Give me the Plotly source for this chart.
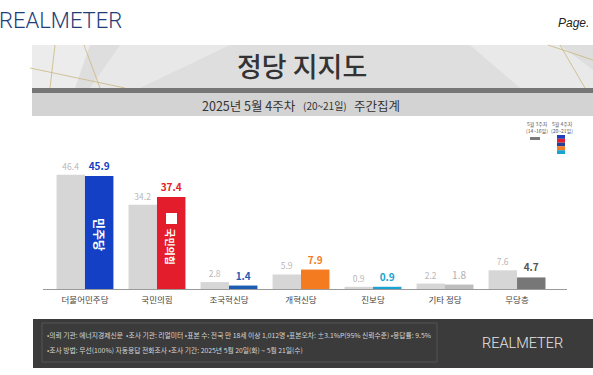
import plotly.graph_objects as go

W, H = 593, 375

categories = ["더불어민주당", "국민의힘", "조국혁신당", "개혁신당", "진보당", "기타 정당", "무당층"]
prev_week = [46.4, 34.2, 2.8, 5.9, 0.9, 2.2, 7.6]
this_week = [45.9, 37.4, 1.4, 7.9, 0.9, 1.8, 4.7]
this_colors = ["#1340c4", "#e31d2b", "#1b5db3", "#f47b20", "#19a2d2", "#bdbdbd", "#777777"]
label_colors = ["#1340c4", "#e31d2b", "#1b5db3", "#f47b20", "#19a2d2", "#b0b0b0", "#555555"]
label_bold = [True, True, True, True, True, False, True]
prev_color = "#d6d6d6"

FONT = "Noto Sans CJK KR"

def px(x):
    return x / W

def py(y):
    return 1 - y / H

fig = go.Figure()
fig.add_trace(go.Bar(
    x=categories, y=prev_week, marker_color=prev_color, marker_line_width=0,
    text=[f"{v:.1f}" for v in prev_week], textposition="outside",
    textfont=dict(family=FONT, size=8.5, color="#b8b8b8"), cliponaxis=False,
))
fig.add_trace(go.Bar(
    x=categories, y=this_week, marker_color=this_colors, marker_line_width=0,
    text=[f"<b>{v:.1f}</b>" if b else f"{v:.1f}" for v, b in zip(this_week, label_bold)],
    textposition="outside",
    textfont=dict(family=FONT, size=10, color=label_colors), cliponaxis=False,
))

shapes = []
# header panel: title band
shapes.append(dict(type="rect", xref="paper", yref="paper", x0=px(32), x1=1, y0=py(88), y1=py(45),
                   fillcolor="#dedede", line_width=0, layer="below"))
# decorative lighter facets
shapes.append(dict(type="path", xref="paper", yref="paper",
                   path=f"M {px(32)} {py(45)} L {px(90)} {py(45)} L {px(75)} {py(88)} L {px(32)} {py(88)} Z",
                   fillcolor="#ececec", line_width=0, layer="below"))
shapes.append(dict(type="path", xref="paper", yref="paper",
                   path=f"M {px(120)} {py(45)} L {px(230)} {py(45)} L {px(140)} {py(88)} L {px(90)} {py(88)} Z",
                   fillcolor="#e8e8e8", line_width=0, layer="below"))
shapes.append(dict(type="path", xref="paper", yref="paper",
                   path=f"M {px(470)} {py(45)} L {px(560)} {py(45)} L {px(593)} {py(70)} L {px(593)} {py(88)} L {px(520)} {py(88)} Z",
                   fillcolor="#e9e9e9", line_width=0, layer="below"))
for (xa, ya, xb, yb) in [(55, 45, 50, 88), (84, 45, 100, 88), (30, 68, 125, 88), (560, 45, 585, 88), (548, 45, 593, 60)]:
    shapes.append(dict(type="line", xref="paper", yref="paper", x0=px(xa), y0=py(ya), x1=px(xb), y1=py(yb),
                       line=dict(color="#c9b682", width=0.8), layer="below"))
# dark stripe
shapes.append(dict(type="rect", xref="paper", yref="paper", x0=px(32), x1=1, y0=py(93), y1=py(88),
                   fillcolor="#767676", line_width=0, layer="below"))
# subtitle band
shapes.append(dict(type="rect", xref="paper", yref="paper", x0=px(32), x1=1, y0=py(116), y1=py(93),
                   fillcolor="#d3d3d3", line_width=0, layer="below"))
# footer
shapes.append(dict(type="rect", xref="paper", yref="paper", x0=px(33), x1=1, y0=py(368), y1=py(319),
                   fillcolor="#3b3b3b", line_width=0, layer="below"))
shapes.append(dict(type="rect", xref="paper", yref="paper", x0=px(42), x1=px(437), y0=py(362), y1=py(323),
                   fillcolor="rgba(0,0,0,0)", line=dict(color="#555555", width=1), layer="below"))
# legend swatches
shapes.append(dict(type="rect", xref="paper", yref="paper", x0=px(530), x1=px(540), y0=py(140), y1=py(137),
                   fillcolor="#7a7a7a", line_width=0))
stripe_cols = ["#1e3fc0", "#e31d2b", "#2a3d8f", "#f47b20", "#19a2d2"]
for i, c in enumerate(stripe_cols):
    shapes.append(dict(type="rect", xref="paper", yref="paper", x0=px(557), x1=px(565),
                       y0=py(135 + 3.8 * (i + 1)), y1=py(135 + 3.8 * i), fillcolor=c, line_width=0))
# 국민의힘 logo mark
shapes.append(dict(type="rect", xref="paper", yref="paper", x0=px(166), x1=px(177), y0=py(224), y1=py(213),
                   fillcolor="white", line_width=0))

annotations = []
def ann(text, x, y, size, color, family=FONT, weight=None, xanchor="center"):
    f = dict(family=family, size=size, color=color)
    if weight is not None:
        f["weight"] = weight
    annotations.append(dict(text=text, x=px(x), y=py(y), xref="paper", yref="paper", showarrow=False,
                            xanchor=xanchor, yanchor="middle", font=f))

ann("REALMETER", 60, 20, 22, "#1d3e78", family="Roboto", weight=300)
ann("<i>Page.</i>", 573, 23, 12, "#222222", family="Liberation Sans")
ann("정당 지지도", 302, 65, 27, "#333333", weight=500)
ann("2025년 5월 4주차", 298, 105, 12.5, "#333333", xanchor="right")
ann("(20~21일)", 301, 106, 10, "#333333", xanchor="left")
ann("주간집계", 352, 105, 12.5, "#333333", xanchor="left")
ann("5월 3주차", 537, 124, 5, "#555555")
ann("(14~16일)", 537, 130, 5, "#555555")
ann("5월 4주차", 562, 124, 5, "#555555")
ann("(20~21일)", 562, 130, 5, "#555555")
ann("•의뢰 기관: 에너지경제신문  •조사 기관: 리얼미터 •표본 수: 전국 만 18세 이상 1,012명 •표본오차: ±3.1%P(95% 신뢰수준) •응답률: 9.5%",
    45, 335, 6.8, "#d6d6d6", xanchor="left")
ann("•조사 방법: 무선(100%) 자동응답 전화조사 •조사 기간: 2025년 5월 20일(화) ~ 5월 21일(수)",
    45, 350, 6.8, "#d6d6d6", xanchor="left")
ann("REALMETER", 522, 343, 14.5, "#e6e6e6", family="Roboto", weight=300)
# in-bar logos
annotations.append(dict(text="<b>민주당</b>", x=categories[0], y=22, xref="x", yref="y", xshift=14,
                        showarrow=False, textangle=90, font=dict(family=FONT, size=12, color="white")))
annotations.append(dict(text="<b>국민의힘</b>", x=categories[1], y=17, xref="x", yref="y", xshift=14,
                        showarrow=False, textangle=90, font=dict(family=FONT, size=10, color="white")))

fig.update_layout(
    width=W, height=H, margin=dict(l=0, r=0, t=0, b=0),
    paper_bgcolor="white", plot_bgcolor="rgba(0,0,0,0)",
    barmode="group", bargap=0.21, bargroupgap=0, showlegend=False,
    shapes=shapes, annotations=annotations,
    xaxis=dict(domain=[px(43), px(567)], range=[-0.583, 6.694], showgrid=False, zeroline=False,
               showline=True, linecolor="#9a9a9a", linewidth=1, ticks="", automargin=False,
               ticklabelstandoff=3,
               tickfont=dict(family=FONT, size=8.5, color="#444444")),
    yaxis=dict(domain=[py(289), py(141.4)], range=[0, 60], visible=False, showgrid=False, automargin=False),
)

fig.write_html("out.html", config={"displayModeBar": False},
               post_script="document.body.style.margin='0px';")
